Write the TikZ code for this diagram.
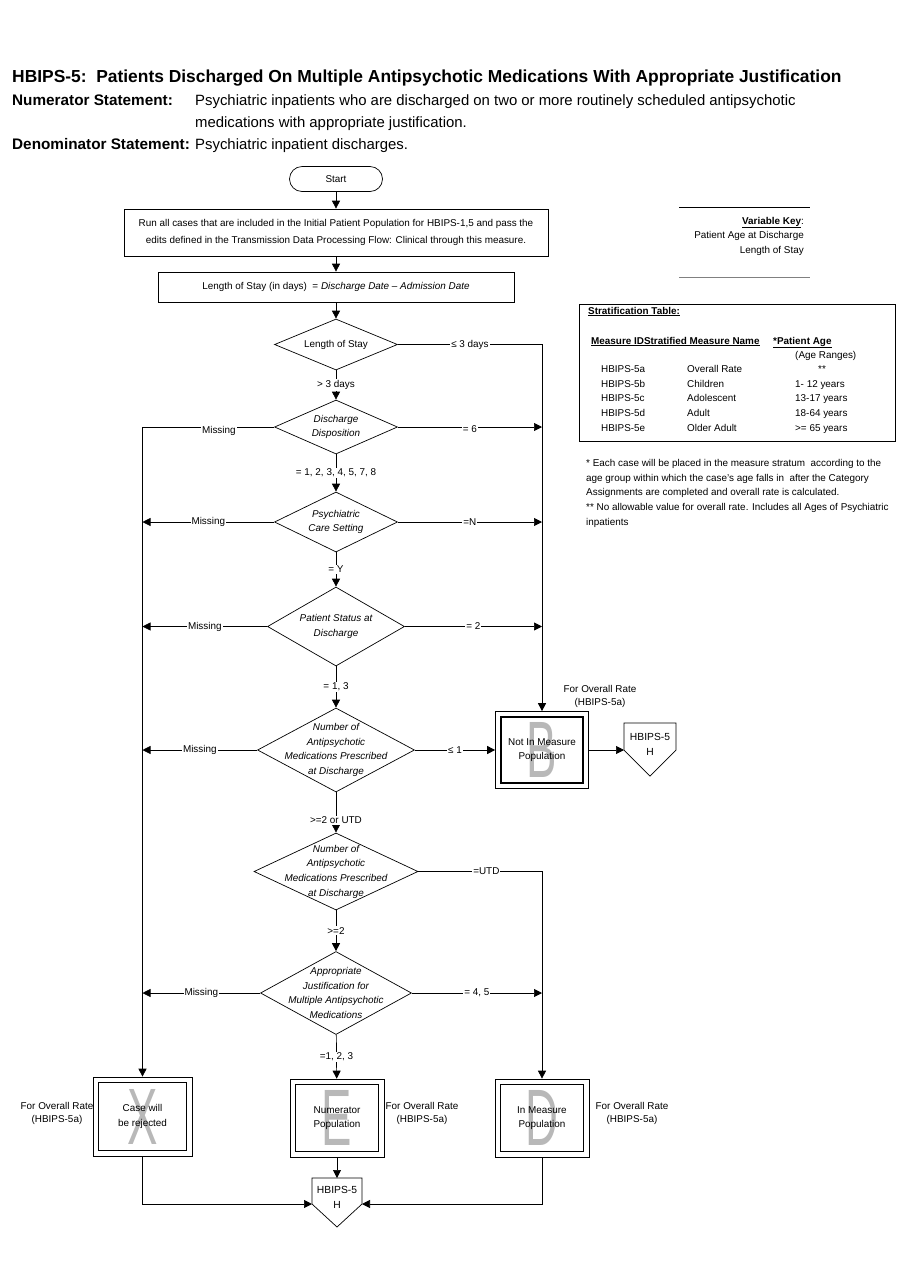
\documentclass[tikz,border=0pt]{standalone}
\usepackage{fontspec}
\setmainfont{Liberation Sans}
\newfontfamily\narrowfont[FakeStretch=0.57]{Liberation Sans}
\usetikzlibrary{shapes.geometric,arrows.meta,positioning,calc}

\begin{document}
\begin{tikzpicture}[x=1pt,y=-1pt,
  every node/.style={inner sep=0pt, font=\fontsize{9.9}{14.7}\selectfont},
  flow/.style={line width=0.7pt},
  arr/.style={-{Triangle[length=8pt,width=8pt]}},
  dec/.style={draw, diamond, line width=0.7pt, inner sep=0pt},
  dectext/.style={align=center, font=\fontsize{9.9}{14.7}\selectfont\itshape},
  procbox/.style={draw, line width=0.7pt, align=center},
  outerbox/.style={draw, line width=0.7pt},
  innerbox/.style={draw, line width=1.7pt},
  bigletter/.style={text=black!28, font=\narrowfont\fontsize{80}{80}\selectfont},
  lbl/.style={fill=white, inner sep=1pt},
  ratenote/.style={align=center, font=\fontsize{9.9}{13}\selectfont},
]
\useasboundingbox (0,0) rectangle (900,1286);

% header
\node[anchor=base west, font=\bfseries\fontsize{17.4}{19}\selectfont] (title) at (12,82)
  {HBIPS-5:\ \ Patients Discharged On Multiple Antipsychotic Medications With Appropriate Justification};
\node[anchor=base west, font=\bfseries\fontsize{15.3}{17}\selectfont] (numlbl) at (12,105) {Numerator Statement:};
\node[anchor=base west, font=\fontsize{14.9}{17}\selectfont] (numtxt) at (195,105)
  {Psychiatric inpatients who are discharged on two or more routinely scheduled antipsychotic};
\node[anchor=base west, font=\fontsize{14.9}{17}\selectfont] (numtxtb) at (195,127)
  {medications with appropriate justification.};
\node[anchor=base west, font=\bfseries\fontsize{15.3}{17}\selectfont] (denlbl) at (12,149) {Denominator Statement:};
\node[anchor=base west, font=\fontsize{14.9}{17}\selectfont] (dentxt) at (195,149) {Psychiatric inpatient discharges.};

% variable key
\draw[line width=0.8pt] (679,207) -- (810,207);
\draw[line width=1pt, gray] (679,277) -- (810,277);
\node[anchor=base east] (vkey) at (804,224) {\textbf{\underline{Variable Key}}:};
\node[anchor=base east] (vage) at (804,238.5) {Patient Age at Discharge};
\node[anchor=base east] (vlos) at (804,253) {Length of Stay};

% stratification table
\node[draw, line width=0.8pt, anchor=north west, minimum width=316pt, minimum height=137pt] (strat) at (579,304) {};
\node[anchor=base west, font=\bfseries\fontsize{9.9}{11}\selectfont] at (588,314) {\underline{Stratification Table:}};
\node[anchor=base west, font=\bfseries\fontsize{9.9}{11}\selectfont] at (591,344) {\underline{Measure IDStratified Measure Name}};
\node[anchor=base west, font=\bfseries\fontsize{9.9}{11}\selectfont] at (773,344) {\underline{*Patient Age}};
\node[anchor=base west] at (795,358) {(Age Ranges)};
\foreach \id/\name/\age [count=\i] in {a/Overall Rate/, b/Children/1- 12 years, c/Adolescent/13-17 years,
    d/Adult/18-64 years, e/Older Adult/>= 65 years} {
  \node[anchor=base west] at (601,358+14.6*\i) {HBIPS-5\id};
  \node[anchor=base west] at (687,358+14.6*\i) {\name};
  \node[anchor=base west] at (795,358+14.6*\i) {\age};
}
\node[anchor=base] at (822,372.6) {**};

% notes
\node[anchor=north west, align=left] (notes) at (586,459)
  {* Each case will be placed in the measure stratum\ \ according to the\\
   age group within which the case’s age falls in\ \ after the Category\\
   Assignments are completed and overall rate is calculated.\\
   ** No allowable value for overall rate. Includes all Ages of Psychiatric\\
   inpatients};

% flow
\node[draw, line width=0.7pt, rounded corners=12.5pt, minimum width=93pt, minimum height=25pt] (start) at (336,179) {Start};
\node[procbox, minimum width=424pt, minimum height=47pt, font=\fontsize{9.9}{16.5}\selectfont] (run) at (336,232.5)
  {Run all cases that are included in the Initial Patient Population for HBIPS-1,5 and pass the\\
   edits defined in the Transmission Data Processing Flow: Clinical through this measure.};
\node[procbox, minimum width=356pt, minimum height=30pt] (los) at (336,287)
  {Length of Stay (in days)\ \ = \textit{Discharge Date – Admission Date}};

\node[dec, minimum width=123pt, minimum height=51pt] (d1) at (336,344.5) {};
\node[dectext, font=\fontsize{9.9}{14.7}\selectfont] at (d1) {Length of Stay};
\node[dec, minimum width=123pt, minimum height=54pt] (d2) at (336,427) {};
\node[dectext] at (d2) {Discharge\\Disposition};
\node[dec, minimum width=123pt, minimum height=60pt] (d3) at (336,522) {};
\node[dectext] at (d3) {Psychiatric\\Care Setting};
\node[dec, minimum width=137pt, minimum height=79pt] (d4) at (336,626.5) {};
\node[dectext] at (d4) {Patient Status at\\Discharge};
\node[dec, minimum width=157pt, minimum height=84pt] (d5) at (336,750) {};
\node[dectext] at (d5) {Number of\\Antipsychotic\\Medications Prescribed\\at Discharge};
\node[dec, minimum width=164pt, minimum height=77pt] (d6) at (336,871.5) {};
\node[dectext] at (d6) {Number of\\Antipsychotic\\Medications Prescribed\\at Discharge};
\node[dec, minimum width=151pt, minimum height=83pt] (d7) at (336,993) {};
\node[dectext] at (d7) {Appropriate\\Justification for\\Multiple Antipsychotic\\Medications};

% end boxes
\foreach \nm/\x/\y/\w/\h/\ltr/\txt in {B/542/750/93/77/B/Not In Measure\\Population,
    X/142.5/1116.5/99/79/X/Case will\\be rejected,
    E/337/1118/94/78/E/Numerator\\Population,
    D/542/1118/94/78/D/In Measure\\Population} {
  \node[outerbox, minimum width=\w pt, minimum height=\h pt] (\nm) at (\x,\y) {};
  \node[innerbox, minimum width=\w pt-11pt, minimum height=\h pt-11pt] at (\nm) {};
  \node[bigletter] at (\nm) {\ltr};
  \node[align=center] at (\nm) {\txt};
}
\node[ratenote] (rB) at (600,696.5) {For Overall Rate\\(HBIPS-5a)};
\node[ratenote] (rX) at (57,1113) {For Overall Rate\\(HBIPS-5a)};
\node[ratenote] (rE) at (422,1113) {For Overall Rate\\(HBIPS-5a)};
\node[ratenote] (rD) at (632,1113) {For Overall Rate\\(HBIPS-5a)};

% off-page connectors
\node[align=center, font=\fontsize{10.3}{15}\selectfont] (h1) at (650,744) {HBIPS-5\\H};
\draw[flow] ($(h1)+(-26,-21)$) -- ++(52,0) -- ++(0,27) -- ++(-26,26) -- ++(-26,-26) -- cycle;
\coordinate (h1in) at ($(h1)+(-26,6)$);
\node[align=center, font=\fontsize{10.3}{15}\selectfont] (h2) at (337,1197) {HBIPS-5\\H};
\draw[flow] ($(h2)+(-25,-19)$) -- ++(50,0) -- ++(0,26) -- ++(-25,23) -- ++(-25,-23) -- cycle;
\coordinate (h2top) at ($(h2)+(0,-19)$);
\coordinate (h2w) at ($(h2)+(-25,7)$);
\coordinate (h2e) at ($(h2)+(25,7)$);

% connectors
\draw[flow,arr] (start) -- (run);
\draw[flow,arr] (run) -- (los);
\draw[flow,arr] (los) -- (d1);
\draw[flow,arr] (d1) -- node[lbl] {> 3 days} (d2);
\draw[flow,arr] (d2) -- node[lbl] {= 1, 2, 3, 4, 5, 7, 8} (d3);
\draw[flow,arr] (d3) -- node[lbl] {= Y} (d4);
\draw[flow,arr] (d4) -- node[lbl] {= 1, 3} (d5);
\draw[flow,arr] (d5) -- node[lbl, pos=0.7] {>=2 or UTD} (d6);
\draw[flow,arr] (d6) -- node[lbl] {>=2} (d7);
\draw[flow,arr] (d7) -- node[lbl] {=1, 2, 3} (E);

\draw[flow,arr] (d1.east) -- node[lbl] {≤ 3 days} (d1.east -| B.north) -- (B.north);
\draw[flow,arr] (d2.east) -- node[lbl, yshift=-2pt] {= 6} (d2.east -| B.north);
\draw[flow,arr] (d3.east) -- node[lbl] {=N} (d3.east -| B.north);
\draw[flow,arr] (d4.east) -- node[lbl] {= 2} (d4.east -| B.north);
\draw[flow,arr] (d5.east) -- node[lbl] {≤ 1} (B.west);
\draw[flow,arr] (B.east) -- (h1in);

\draw[flow,arr] (d2.west) -- node[lbl, pos=0.42, yshift=-4pt] {Missing} (d2.west -| X.north) -- (X.north);
\foreach \d in {d3,d4,d5,d7}
  \draw[flow,arr] (\d.west) -- node[lbl] {Missing} (\d.west -| X.north);

\draw[flow,arr] (d6.east) -- node[lbl, pos=0.55] {=UTD} (d6.east -| D.north) -- (D.north);
\draw[flow,arr] (d7.east) -- node[lbl] {= 4, 5} (d7.east -| D.north);

\draw[flow,arr] (E) -- (h2top);
\draw[flow,arr] (X.south) |- (h2w);
\draw[flow,arr] (D.south) |- (h2e);
\end{tikzpicture}
\end{document}
